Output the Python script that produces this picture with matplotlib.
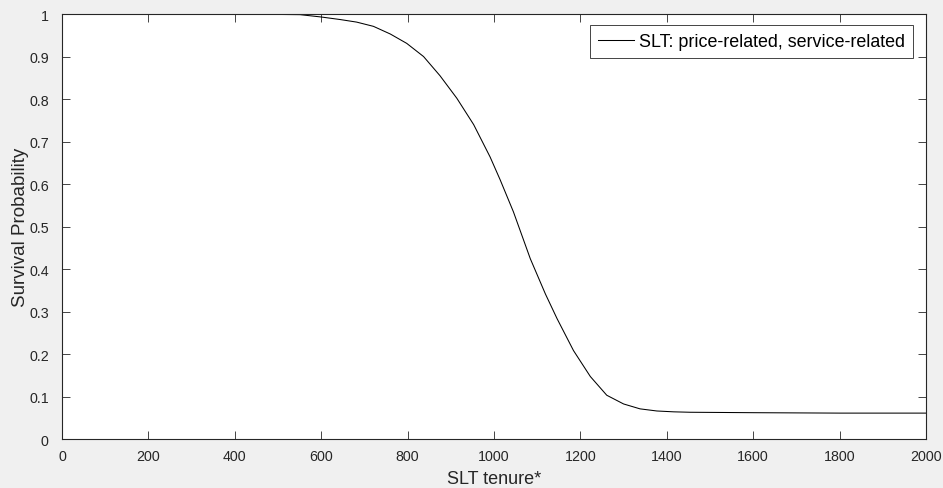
import numpy as np
import matplotlib.pyplot as plt

plt.rcParams['font.family'] = ['Liberation Sans', 'DejaVu Sans']

tenure = [0, 200, 400, 500, 551, 600, 644, 682, 721, 760, 798, 837, 875,
          914, 953, 991, 1014, 1045, 1084, 1119, 1146, 1184, 1223, 1261,
          1300, 1338, 1377, 1416, 1454, 1600, 1800, 2000]
survival = [1.0, 1.0, 0.9995, 0.999, 0.9985, 0.993, 0.987, 0.981, 0.971,
            0.953, 0.931, 0.900, 0.855, 0.802, 0.740, 0.664, 0.611, 0.535,
            0.425, 0.342, 0.284, 0.209, 0.148, 0.104, 0.0835, 0.072, 0.067,
            0.065, 0.064, 0.063, 0.062, 0.062]

xticks = np.arange(0, 2001, 200)
yticks = np.round(np.arange(0, 1.01, 0.1), 1)
ytick_labels = ['0'] + [f'{v:g}' for v in yticks[1:-1]] + ['1']

axis_col = '#262626'

fig = plt.figure(figsize=(9.43, 4.89), dpi=100, facecolor='#f0f0f0')
ax = fig.add_axes([0.0657, 0.0992, 0.9163, 0.8701])
ax.set_facecolor('white')

ax.plot(tenure, survival, color='black', lw=0.75,
        label='SLT: price-related, service-related')

ax.set_xlim(0, 2000)
ax.set_ylim(0, 1)
ax.set_xticks(xticks)
ax.set_yticks(yticks)
ax.set_yticklabels(ytick_labels)
ax.tick_params(direction='in', length=6, width=0.6, colors=axis_col,
               labelsize=10.3, top=True, right=True)
ax.tick_params(axis='x', pad=7)
ax.tick_params(axis='y', pad=9.5)
for sp in ax.spines.values():
    sp.set_color(axis_col)
    sp.set_linewidth(0.8)

ax.set_xlabel('SLT tenure*', fontsize=13, color=axis_col, labelpad=5)
ax.set_ylabel('Survival Probability', fontsize=13.5, color=axis_col,
              labelpad=0)

leg = ax.legend(loc='upper right', fontsize=12.9, fancybox=False,
                framealpha=1, edgecolor=axis_col, handlelength=2.0,
                handletextpad=0.3, borderpad=0.45, borderaxespad=0,
                bbox_to_anchor=(0.985, 0.974))
leg.get_frame().set_linewidth(0.6)

fig.savefig('out.png', dpi=100, facecolor=fig.get_facecolor())
